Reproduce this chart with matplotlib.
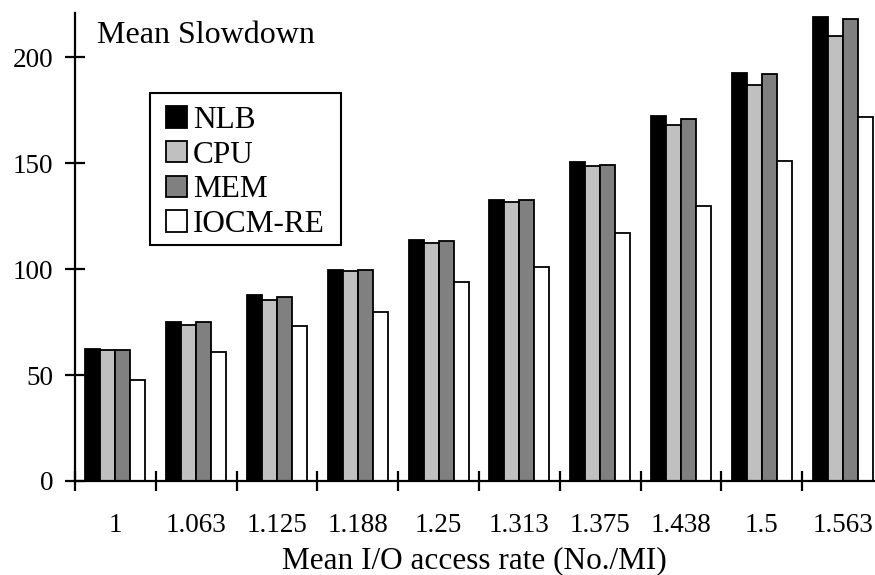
import matplotlib
matplotlib.use("Agg")
import matplotlib.pyplot as plt
from matplotlib.patches import Rectangle
import numpy as np

# Mean I/O access rate (No./MI) categories
rates = ["1", "1.063", "1.125", "1.188", "1.25", "1.313", "1.375", "1.438", "1.5", "1.563"]

# Mean slowdown per policy
nlb = [62.3, 75.1, 87.7, 99.5, 113.8, 132.7, 150.6, 172.2, 192.9, 219.0]
cpu = [62.0, 73.7, 85.4, 99.0, 112.6, 131.9, 148.6, 168.0, 186.8, 210.0]
mem = [62.0, 75.0, 86.8, 99.5, 113.5, 132.5, 149.0, 171.0, 192.0, 218.0]
iocm_re = [47.6, 61.0, 73.0, 80.0, 93.9, 100.9, 117.0, 129.9, 151.0, 171.8]

series_names = ["NLB", "CPU", "MEM", "IOCM-RE"]
series_values = [nlb, cpu, mem, iocm_re]
series_colors = ["#000000", "#c0c0c0", "#808080", "#ffffff"]

plt.rcParams["font.family"] = ["Liberation Serif", "DejaVu Serif"]

W, H = 875, 575
fig = plt.figure(figsize=(W / 100, H / 100), dpi=100)

# axes extent in pixels (left, bottom-of-plot, top-of-plot, right)
x0, x1 = 75, 883
y_top, y_zero = 13, 481
ax = fig.add_axes([x0 / W, (H - y_zero) / H, (x1 - x0) / W, (y_zero - y_top) / H])

n = len(rates)
x = np.arange(n)
bw = 0.186
for i, (name, vals, col) in enumerate(zip(series_names, series_values, series_colors)):
    ax.bar(x + (i - 1.5) * bw, vals, width=bw, color=col, edgecolor="black",
           linewidth=1.3, label=name, zorder=2)

ax.set_xlim(-0.5, n - 0.5)
ax.set_ylim(0, 221)

for s in ["top", "right"]:
    ax.spines[s].set_visible(False)
for s in ["left", "bottom"]:
    ax.spines[s].set_linewidth(1.6)
    ax.spines[s].set_zorder(3)

ax.set_yticks([0, 50, 100, 150, 200])
ax.tick_params(axis="y", direction="inout", length=14.4, width=1.6, pad=8.6, labelsize=19.5)

ax.set_xticks(x)
ax.set_xticklabels(rates)
ax.tick_params(axis="x", which="major", length=0, pad=23, labelsize=19.5)
ax.set_xticks(np.arange(-0.5, n, 1.0), minor=True)
ax.tick_params(axis="x", which="minor", direction="inout", length=14.4, width=1.6)

ax.set_xlabel("Mean I/O access rate (No./MI)", fontsize=22.5)
ax.xaxis.set_label_coords((474 - x0) / (x1 - x0), (y_zero - 546) / (y_zero - y_top))

fig.text(97 / W, 1 - 43 / H, "Mean Slowdown", fontsize=23, va="baseline", ha="left")

# legend entries without their own frame, boxed by a plain rectangle
leg = ax.legend(loc="upper left", bbox_to_anchor=(166 / W, 1 - 106 / H),
                bbox_transform=fig.transFigure, fontsize=22.5, frameon=False,
                handlelength=0.66, handleheight=0.68, handletextpad=0.2,
                labelspacing=0.18, borderpad=0, borderaxespad=0)
leg.set_zorder(5)
box = Rectangle((150 / W, 1 - 245 / H), (341 - 150) / W, (245 - 93) / H,
                transform=fig.transFigure, facecolor="white", edgecolor="black",
                linewidth=1.5, zorder=4)
ax.add_artist(box)
box.set_clip_on(False)

fig.savefig("out.png", dpi=100)
